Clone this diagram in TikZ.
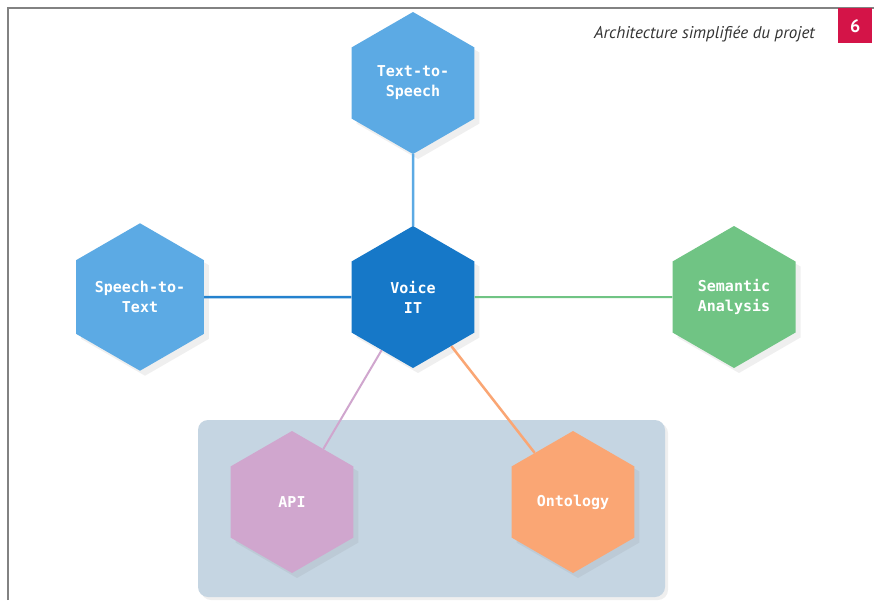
\documentclass[tikz,border=0pt]{standalone}
\usepackage{fontspec}
\setmainfont{PT Sans}
\setmonofont{DejaVu Sans Mono}
\usepackage{tikz}
\usetikzlibrary{shapes.geometric, shadows}
\usetikzlibrary{positioning}
\definecolor{colorLB}{RGB}{92,170,228}
\definecolor{colorDB}{RGB}{22,120,200}
\definecolor{colorGR}{RGB}{112,196,132}
\definecolor{colorPU}{RGB}{208,166,206}
\definecolor{colorOR}{RGB}{250,166,116}
\definecolor{colorBG}{RGB}{197,213,226}
\definecolor{colorRD}{RGB}{212,20,72}
\definecolor{colorFR}{RGB}{130,130,130}
\tikzstyle{hexa} = [regular polygon, regular polygon sides=6, shape border rotate=30, minimum size=142pt, inner sep=0pt, text=white, align=center, font=\ttfamily\bfseries\fontsize{15}{20}\selectfont, drop shadow={shadow xshift=5pt, shadow yshift=-5pt, opacity=0.12}]
\tikzstyle{link} = [line width=2.5pt]

\begin{document}
\begin{tikzpicture}[x=1pt, y=-1pt]
	\useasboundingbox (0,0) rectangle (874,600);
	\fill[white] (0,0) rectangle (874,600);
	
	% frame and title
	\draw[colorFR, line width=1.5pt] (8,600) -- (8,8) -- (874,8);
	\node[anchor=base east, font=\itshape\fontsize{17}{20}\selectfont, text=black!80, inner sep=0pt](Title) at (815,38){Architecture simplifiée du projet};
	\node[fill=colorRD, text=white, font=\bfseries\fontsize{18}{20}\selectfont, minimum width=34pt, minimum height=35pt, inner sep=0pt, anchor=north west](Num) at (838,8){6};
	
	% container
	\fill[colorBG, rounded corners=10pt, drop shadow={shadow xshift=3pt, shadow yshift=-3pt, opacity=0.12}] (198,420) rectangle (665,597);
	
	\node[hexa, fill=colorDB](Voice) at (413,297){Voice\\IT};
	\node[hexa, fill=colorLB]at([yshift=214pt]Voice.center)(TTS){Text-to-\\Speech};
	\node[hexa, fill=colorLB]at([xshift=-273pt]Voice.center)(STT){Speech-to-\\Text};
	\node[hexa, fill=colorGR]at([xshift=321pt]Voice.center)(Sem){Semantic\\Analysis};
	\node[hexa, fill=colorPU]at([xshift=-121pt, yshift=-205pt]Voice.center)(API){API};
	\node[hexa, fill=colorOR]at([xshift=160pt, yshift=-205pt]Voice.center)(Onto){Ontology};
	
	\draw[link, colorLB] (TTS) -- (Voice);
	\draw[link, colorDB!80!colorLB] (STT) -- (Voice);
	\draw[link, colorGR, line width=2pt] (Voice) -- (Sem);
	\draw[link, colorPU, line width=2pt] (Voice) -- (API);
	\draw[link, colorOR] (Voice) -- (Onto);

\end{tikzpicture}
\end{document}
